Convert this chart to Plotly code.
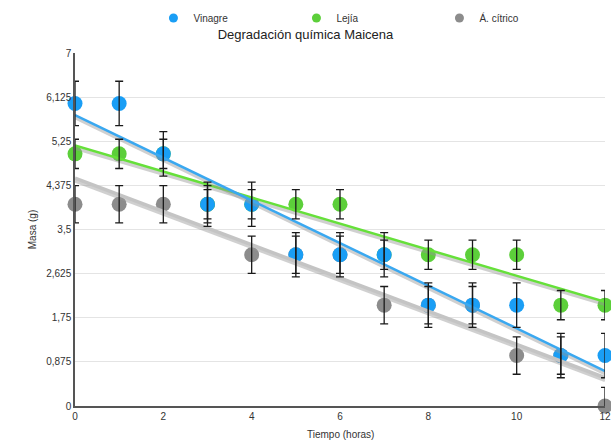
import numpy as np
import plotly.graph_objects as go

horas = [0, 1, 2, 3, 4, 5, 6, 7, 8, 9, 10, 11, 12]
vinagre = [6, 6, 5, 4, 4, 3, 3, 3, 2, 2, 2, 1, 1]
lejia = [5, 5, 5, 4, 4, 4, 4, 3, 3, 3, 3, 2, 2]
citrico = [4, 4, 4, 4, 3, 3, 3, 2, 2, 2, 1, 1, 0]
error_vinagre = 0.44
error_lejia = 0.29
error_citrico = 0.37
y_ticks = [0, 0.875, 1.75, 2.625, 3.5, 4.375, 5.25, 6.125, 7]
y_labels = ["0", "0,875", "1,75", "2,625", "3,5", "4,375", "5,25", "6,125", "7"]
x_ticks = [0, 2, 4, 6, 8, 10, 12]

series = [
    ("Vinagre", vinagre, error_vinagre, "#1a9ef5", "#3aa8f0", 1),
    ("Lejía", lejia, error_lejia, "#5ccf3a", "#66e03a", 2),
    ("Á. cítrico", citrico, error_citrico, "#8c8c8c", "#c4c4c4", 3),
]

fig = go.Figure()
x = np.array(horas, dtype=float)

# dots (drawn in reverse so Vinagre sits on top)
for name, ys, err, col, lcol, rank in reversed(series):
    fig.add_trace(go.Scatter(
        x=horas, y=ys, mode="markers", name=name, legendgroup=name,
        marker=dict(color=col, size=15, line=dict(width=0)),
        cliponaxis=False, showlegend=False,
    ))

# legend entries with smaller symbols
for name, ys, err, col, lcol, rank in series:
    fig.add_trace(go.Scatter(
        x=[None], y=[None], mode="markers", name=name, legendgroup=name,
        legendrank=rank, marker=dict(color=col, size=9), showlegend=True,
    ))

# trend lines (with soft shadow)
for name, ys, err, col, lcol, rank in reversed(series):
    m, b = np.polyfit(x, np.array(ys, dtype=float), 1)
    xl = np.array([0, 12], dtype=float)
    yl = m * xl + b
    fig.add_trace(go.Scatter(
        x=xl, y=yl - 0.05, mode="lines", showlegend=False, hoverinfo="skip",
        line=dict(color="rgba(150,150,150,0.45)", width=3.5),
    ))
    fig.add_trace(go.Scatter(
        x=xl, y=yl, mode="lines", showlegend=False, hoverinfo="skip",
        line=dict(color=lcol, width=2.5 if name != "Á. cítrico" else 3.5),
    ))

# error bars on top
for name, ys, err, col, lcol, rank in series:
    fig.add_trace(go.Scatter(
        x=horas, y=ys, mode="markers", showlegend=False, hoverinfo="skip",
        marker=dict(color="rgba(0,0,0,0)", size=1),
        error_y=dict(type="constant", value=err, color="#1a1a1a",
                     thickness=1.3, width=4),
        cliponaxis=False,
    ))

fig.add_annotation(
    text="Tiempo (horas)", xref="paper", yref="paper", x=0.5, y=0,
    yshift=-28, showarrow=False, yanchor="middle",
    font=dict(size=10, color="#333"),
)

fig.update_layout(
    width=611, height=441,
    margin=dict(l=75, r=6, t=53, b=35, autoexpand=False),
    paper_bgcolor="white", plot_bgcolor="white",
    font=dict(family="Liberation Sans, Arial, sans-serif", size=10, color="#333"),
    title=dict(text="Degradación química Maicena", x=0.5, xanchor="center",
               y=1 - 34 / 441, yanchor="middle",
               font=dict(size=13, color="#222")),
    legend=dict(orientation="h", x=0.148, xanchor="left", y=1 - 18 / 441,
                yref="container", yanchor="middle",
                entrywidth=98, entrywidthmode="pixels",
                font=dict(size=10, color="#333"), itemsizing="trace"),
    showlegend=True,
)
fig.update_xaxes(
    range=[0, 12], tickvals=x_ticks, showgrid=False, zeroline=False,
    showline=True, linecolor="#555", linewidth=2, automargin=False,
    ticks="", tickfont=dict(size=10, color="#333"),
)
fig.update_yaxes(
    range=[0, 7], tickvals=y_ticks, ticktext=y_labels, showgrid=True,
    gridcolor="#e4e4e4", gridwidth=1, zeroline=False,
    showline=True, linecolor="#555", linewidth=1.5, ticks="",
    title=dict(text="Masa (g)", standoff=8, font=dict(size=10)),
    tickfont=dict(size=10, color="#333"),
)

fig.write_html("out.html")
